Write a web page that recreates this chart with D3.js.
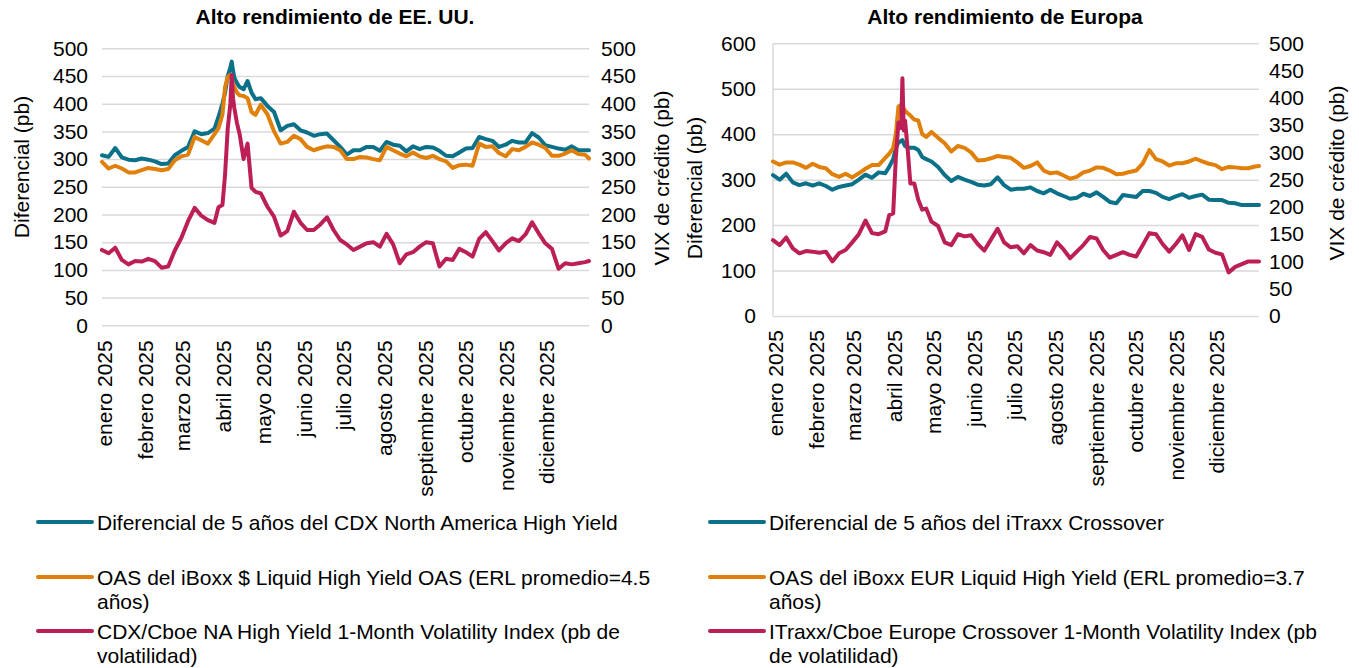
<!DOCTYPE html>
<html>
<head>
<meta charset="utf-8">
<script src="https://cdn.jsdelivr.net/npm/d3@7"></script>
<style>
  body { margin: 0; background: #ffffff; }
  svg { font-family: "Liberation Sans", Arial, sans-serif; }
</style>
</head>
<body>
<svg id="chart" width="1359" height="668"></svg>
<script>
// Fechas de observación compartidas por ambos paneles
const fechas = [
  "2025-01-01","2025-01-06","2025-01-11","2025-01-16","2025-01-21","2025-01-26","2025-01-31","2025-02-05","2025-02-10","2025-02-15",
  "2025-02-20","2025-02-25","2025-03-02","2025-03-07","2025-03-12","2025-03-17","2025-03-22","2025-03-27",
  "2025-03-30","2025-04-02","2025-04-04","2025-04-06","2025-04-08","2025-04-09","2025-04-10","2025-04-11","2025-04-13","2025-04-15",
  "2025-04-18","2025-04-21","2025-04-24","2025-04-27",
  "2025-05-01","2025-05-06","2025-05-11","2025-05-16","2025-05-21","2025-05-26","2025-05-31","2025-06-05","2025-06-10","2025-06-15",
  "2025-06-20","2025-06-25","2025-06-30","2025-07-05","2025-07-10","2025-07-15","2025-07-20","2025-07-25","2025-07-30","2025-08-04",
  "2025-08-09","2025-08-14","2025-08-19","2025-08-24","2025-08-29","2025-09-03","2025-09-08","2025-09-13","2025-09-18","2025-09-23",
  "2025-09-28","2025-10-03","2025-10-08","2025-10-13","2025-10-18","2025-10-23","2025-10-28","2025-11-02","2025-11-07","2025-11-12",
  "2025-11-17","2025-11-22","2025-11-27","2025-12-02","2025-12-07","2025-12-12","2025-12-17","2025-12-22","2025-12-27","2026-01-01",
  "2026-01-04"
];

// EE. UU.: diferencial CDX NA HY 5 años (pb)
const cdxDiferencial = [
  307,304,320,303,299,298,301,299,296,291,292,307,315,322,350,345,347,355,
  376,400,420,450,465,476,460,447,437,430,426,441,420,408,
  410,396,385,352,360,363,352,348,342,345,
  346,334,322,308,316,316,322,322,315,331,
  326,324,314,323,318,322,321,315,306,305,
  312,319,320,340,336,333,322,326,333,330,
  330,347,339,325,322,319,317,323,316,316,
  316
];
// EE. UU.: OAS del iBoxx $ Liquid High Yield (pb)
const iboxxUsdOas = [
  295,283,288,283,276,276,280,284,282,280,282,298,305,308,340,334,328,345,
  356,380,430,448,452,445,435,430,420,415,414,410,385,380,
  398,381,350,328,331,342,336,322,316,320,
  323,322,316,300,300,304,303,300,298,322,
  316,310,305,312,305,302,306,300,296,284,
  289,290,288,328,322,323,311,305,318,316,
  322,330,326,320,306,306,310,316,309,308,
  301
];
// EE. UU.: CDX/Cboe NA HY 1-Month Volatility Index (pb de volatilidad)
const cdxVolatilidad = [
  136,130,140,118,110,116,115,120,116,104,106,135,158,188,212,198,190,185,
  213,217,272,355,400,452,410,392,365,345,300,328,248,241,
  238,214,196,162,170,205,185,172,172,182,
  195,172,154,146,136,142,148,150,142,165,
  146,112,128,132,142,150,148,106,120,118,
  138,132,124,156,168,152,135,148,157,152,
  164,186,166,148,138,102,112,110,112,114,
  116
];

// Europa: diferencial iTraxx Crossover 5 años (pb)
const xoverDiferencial = [
  310,300,313,294,288,292,287,292,286,278,284,287,290,300,311,304,316,314,
  328,345,370,382,385,387,380,374,371,370,370,365,350,345,
  340,328,310,297,306,300,295,289,287,290,
  305,288,278,280,280,283,275,270,278,270,
  264,258,260,269,264,272,262,251,248,266,
  264,262,275,275,271,262,257,263,268,260,
  264,267,256,255,255,249,248,244,244,244,
  244
];
// Europa: OAS del iBoxx EUR Liquid High Yield (pb)
const iboxxEurOas = [
  340,333,338,338,333,326,335,328,325,312,306,313,305,314,324,332,332,348,
  357,370,400,461,464,462,456,452,446,441,432,430,400,394,
  405,392,380,362,374,370,360,342,343,347,
  352,350,348,338,326,330,338,320,314,316,
  309,302,306,316,320,327,326,320,312,313,
  317,320,336,365,345,340,331,336,336,340,
  346,340,335,332,323,328,327,325,325,329,
  330
];
// Europa: iTraxx/Cboe Europe Crossover 1-Month Volatility Index (pb de volatilidad)
const xoverVolatilidad = [
  139,130,144,124,115,119,118,116,118,100,115,121,135,150,175,152,150,155,
  185,188,290,355,345,436,340,358,305,243,243,213,195,197,
  173,165,135,130,150,146,148,132,120,140,
  160,135,126,128,115,130,120,117,112,135,
  122,106,118,130,145,142,121,107,112,117,
  112,109,130,152,150,132,118,132,148,121,
  150,145,122,116,113,80,90,95,100,100,
  100
];

// Etiquetas del eje de fechas
const etiquetasMes = [
  "enero 2025","febrero 2025","marzo 2025","abril 2025","mayo 2025","junio 2025",
  "julio 2025","agosto 2025","septiembre 2025","octubre 2025","noviembre 2025","diciembre 2025"
];
const ticksDiferencialEEUU = [0,50,100,150,200,250,300,350,400,450,500];
const ticksDiferencialEuropa = [0,100,200,300,400,500,600];
const ticksVix = [0,50,100,150,200,250,300,350,400,450,500];

const leyendaEEUU = [
  ["Diferencial de 5 años del CDX North America High Yield"],
  ["OAS del iBoxx $ Liquid High Yield OAS (ERL promedio=4.5", "años)"],
  ["CDX/Cboe NA High Yield 1-Month Volatility Index (pb de", "volatilidad)"]
];
const leyendaEuropa = [
  ["Diferencial de 5 años del iTraxx Crossover"],
  ["OAS del iBoxx EUR Liquid High Yield (ERL promedio=3.7", "años)"],
  ["ITraxx/Cboe Europe Crossover 1-Month Volatility Index (pb", "de volatilidad)"]
];

const COLORES = ["#0b7189", "#e0800b", "#bb1f55"];
const FS = 21;
const parse = d3.timeParse("%Y-%m-%d");
const fechasD = fechas.map(parse);
const meses = d3.timeMonth.range(new Date(2025, 0, 1), new Date(2026, 0, 1));

const svg = d3.select("#chart");

function panel(o) {
  const g = svg.append("g");
  const x = d3.scaleTime().domain(d3.extent(fechasD)).range([o.x0, o.x1]);
  const yL = d3.scaleLinear().domain([0, o.leftMax]).range([o.y0, o.y1]);
  const yR = d3.scaleLinear().domain([0, 500]).range([o.y0, o.y1]);

  // Líneas de cuadrícula horizontales
  const grid = g.append("g")
    .attr("transform", `translate(${o.x0},0)`)
    .call(d3.axisLeft(yL).tickValues(o.leftTicks).tickSize(-(o.x1 - o.x0)).tickFormat(""));
  grid.select(".domain").remove();
  grid.selectAll("line").attr("stroke", "#d9d9d9").attr("stroke-width", 1.5);

  if (o.axisLine) {
    g.append("line")
      .attr("x1", o.x0).attr("x2", o.x0).attr("y1", o.y1).attr("y2", o.y0)
      .attr("stroke", "#d9d9d9").attr("stroke-width", 1.5);
  }

  // Etiquetas del eje izquierdo
  const axL = g.append("g")
    .attr("transform", `translate(${o.leftLabelX},0)`)
    .call(d3.axisLeft(yL).tickValues(o.leftTicks).tickSize(0).tickPadding(0));
  axL.select(".domain").remove();
  axL.selectAll("text").attr("font-size", FS).attr("fill", "#000").attr("font-family", "Liberation Sans, Arial, sans-serif");

  // Etiquetas del eje derecho
  const axR = g.append("g")
    .attr("transform", `translate(${o.rightLabelX},0)`)
    .call(d3.axisRight(yR).tickValues(ticksVix).tickSize(0).tickPadding(0));
  axR.select(".domain").remove();
  axR.selectAll("text").attr("font-size", FS).attr("fill", "#000").attr("font-family", "Liberation Sans, Arial, sans-serif");

  // Eje de fechas con etiquetas verticales
  const axX = g.append("g")
    .attr("transform", `translate(0,${o.y0})`)
    .call(d3.axisBottom(x).tickValues(meses).tickSize(0).tickFormat((d, i) => etiquetasMes[i]));
  axX.select(".domain").remove();
  axX.selectAll("text")
    .attr("font-size", FS).attr("fill", "#000").attr("font-family", "Liberation Sans, Arial, sans-serif")
    .attr("text-anchor", "end")
    .attr("transform", "rotate(-90)")
    .attr("x", -o.xLabelGap).attr("y", 2).attr("dy", "0.35em");

  // Títulos de ejes
  g.append("text")
    .attr("transform", `translate(${o.leftTitleX},${o.leftTitleY}) rotate(-90)`)
    .attr("text-anchor", "middle").attr("dy", "0.35em")
    .attr("font-size", FS).text("Diferencial (pb)");
  g.append("text")
    .attr("transform", `translate(${o.rightTitleX},${o.rightTitleY}) rotate(-90)`)
    .attr("text-anchor", "middle").attr("dy", "0.35em")
    .attr("font-size", FS).text("VIX de crédito (pb)");

  // Título del panel
  g.append("text")
    .attr("x", o.titleX).attr("y", 24)
    .attr("text-anchor", "middle").attr("font-weight", "bold")
    .attr("font-size", FS).text(o.title);

  // Series
  const series = [
    { v: o.s1, y: yL },
    { v: o.s2, y: yL },
    { v: o.s3, y: yR }
  ];
  series.forEach((s, k) => {
    const line = d3.line()
      .x((d, i) => x(fechasD[i]))
      .y(d => s.y(d));
    g.append("path")
      .datum(s.v)
      .attr("fill", "none")
      .attr("stroke", COLORES[k])
      .attr("stroke-width", 4)
      .attr("stroke-linejoin", "round")
      .attr("stroke-linecap", "round")
      .attr("d", line);
  });

  // Leyenda
  const rows = [522, 577, 631];
  o.legend.forEach((lines, k) => {
    const lg = g.append("g");
    lg.append("line")
      .attr("x1", o.legX).attr("x2", o.legX + 54)
      .attr("y1", rows[k]).attr("y2", rows[k])
      .attr("stroke", COLORES[k]).attr("stroke-width", 4).attr("stroke-linecap", "round");
    lines.forEach((t, j) => {
      lg.append("text")
        .attr("x", o.legX + 59).attr("y", rows[k] + 7.5 + j * 24)
        .attr("font-size", FS).attr("fill", "#000").text(t);
    });
  });
}

panel({
  title: "Alto rendimiento de EE. UU.", titleX: 335,
  x0: 102, x1: 589, y0: 325.3, y1: 48.3,
  leftMax: 500, leftTicks: ticksDiferencialEEUU,
  leftLabelX: 88, rightLabelX: 601, axisLine: false, xLabelGap: 15,
  leftTitleX: 22, leftTitleY: 167, rightTitleX: 662, rightTitleY: 178,
  s1: cdxDiferencial, s2: iboxxUsdOas, s3: cdxVolatilidad,
  legend: leyendaEEUU, legX: 38
});

panel({
  title: "Alto rendimiento de Europa", titleX: 1005,
  x0: 773, x1: 1259, y0: 316, y1: 43.3,
  leftMax: 600, leftTicks: ticksDiferencialEuropa,
  leftLabelX: 756, rightLabelX: 1269, axisLine: true, xLabelGap: 14,
  leftTitleX: 695, leftTitleY: 188, rightTitleX: 1337, rightTitleY: 173,
  s1: xoverDiferencial, s2: iboxxEurOas, s3: xoverVolatilidad,
  legend: leyendaEuropa, legX: 710
});
</script>
</body>
</html>
